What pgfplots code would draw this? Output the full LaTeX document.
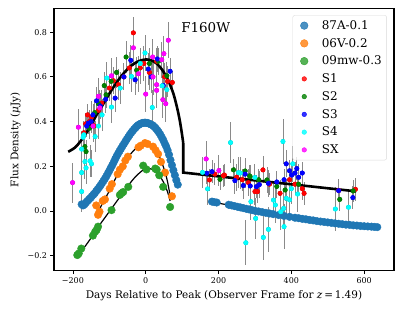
\documentclass[border=0pt]{standalone}
\usepackage{pgfplots}
\pgfplotsset{compat=1.18}
\usepackage{pgfplotstable}
\usepackage{fontspec}
\setmainfont{DejaVu Serif}
\definecolor{tabblue}{HTML}{1F77B4}
\definecolor{taborange}{HTML}{FF7F0E}
\definecolor{tabgreen}{HTML}{2CA02C}
\definecolor{sone}{HTML}{FF0000}
\definecolor{stwo}{HTML}{008000}
\definecolor{sthree}{HTML}{0000FF}
\definecolor{sfour}{HTML}{00FFFF}
\definecolor{sx}{HTML}{FF00FF}
\definecolor{ebar}{HTML}{8A8A8A}

\pgfplotstableread{
x y
-176 0.030
-172 0.025
-168 0.030
-164 0.038
-160 0.045
-156 0.052
-152 0.058
-148 0.066
-144 0.073
-140 0.080
-136 0.089
-132 0.097
-128 0.106
-124 0.115
-120 0.125
-116 0.135
-112 0.145
-108 0.156
-104 0.168
-100 0.180
-96 0.193
-92 0.205
-88 0.218
-84 0.232
-80 0.245
-76 0.257
-72 0.268
-68 0.279
-64 0.290
-60 0.300
-56 0.311
-52 0.321
-48 0.331
-44 0.341
-40 0.350
-36 0.358
-32 0.366
-28 0.373
-24 0.380
-20 0.385
-16 0.389
-12 0.392
-8 0.394
-4 0.395
0 0.395
4 0.394
8 0.392
12 0.389
16 0.386
20 0.382
24 0.376
28 0.369
32 0.361
36 0.352
40 0.342
44 0.330
48 0.318
52 0.303
56 0.289
60 0.272
64 0.252
68 0.228
72 0.205
76 0.182
80 0.160
84 0.138
88 0.118
182 0.042
188 0.040
195 0.038
228 0.028
236 0.025
244 0.022
252 0.019
260 0.016
268 0.013
276 0.010
284 0.007
292 0.004
300 0.001
310 -0.002
320 -0.005
330 -0.008
340 -0.011
350 -0.014
365 -0.018
380 -0.022
395 -0.026
410 -0.030
420 -0.032
430 -0.035
440 -0.037
450 -0.040
460 -0.042
470 -0.045
480 -0.047
490 -0.049
500 -0.051
510 -0.053
520 -0.055
530 -0.057
540 -0.059
550 -0.061
560 -0.062
570 -0.064
580 -0.065
590 -0.067
600 -0.068
610 -0.069
620 -0.070
628 -0.071
636 -0.072
}\tabA

\pgfplotstableread{
x y
-136 0.025
-131 -0.017
-127 -0.003
-118 0.045
-112 0.052
-99 0.100
-93 0.120
-77 0.165
-71 0.185
-63 0.200
-56 0.226
-49 0.243
-20 0.285
-14 0.292
-2 0.304
5 0.300
20 0.288
27 0.272
34 0.255
42 0.220
53 0.172
72 0.066
}\tabB

\pgfplotstableread{
x y
-188 -0.197
-184 -0.190
-177 -0.168
-145 -0.110
-139 -0.093
-135 -0.085
-131 -0.070
-94 0.004
-71 0.072
-66 0.080
-62 0.085
-48 0.108
-7 0.203
2 0.186
26 0.190
30 0.185
37 0.160
48 0.108
67 0.018
}\tabC

\pgfplotstableread{
x y e
-34 0.797 0.07
73 0.575 0.05
-60 0.600 0.06
-75 0.565 0.07
-89 0.583 0.06
-121 0.483 0.06
-149 0.420 0.07
-142 0.381 0.06
-165 0.390 0.05
-160 0.430 0.05
-15 0.640 0.07
10 0.620 0.08
30 0.670 0.06
52 0.600 0.06
-100 0.550 0.06
-45 0.640 0.07
-130 0.450 0.06
-155 0.400 0.05
-170 0.350 0.05
60 0.580 0.07
-5 0.660 0.08
175 0.139 0.05
190 0.165 0.05
216 0.161 0.05
213 0.157 0.05
250 0.151 0.06
282 0.127 0.06
307 0.087 0.05
322 0.184 0.06
300 0.087 0.06
369 0.079 0.06
395 0.140 0.05
410 0.120 0.05
435 0.079 0.05
430 0.100 0.05
530 0.092 0.05
576 0.097 0.05
340 0.120 0.05
265 0.140 0.05
}\tabSa

\pgfplotstableread{
x y e
-54 0.689 0.07
-114 0.561 0.06
-109 0.520 0.06
-130 0.480 0.05
-167 0.288 0.05
-164 0.266 0.05
58 0.605 0.06
35 0.670 0.06
-80 0.620 0.07
-140 0.440 0.05
-155 0.370 0.05
10 0.660 0.07
-25 0.630 0.06
-95 0.580 0.07
204 0.142 0.05
241 0.184 0.05
273 0.179 0.06
285 0.157 0.05
287 0.154 0.05
333 0.139 0.06
383 0.094 0.05
360 0.110 0.05
420 0.120 0.05
533 0.052 0.05
570 0.090 0.05
310 0.140 0.05
}\tabSb

\pgfplotstableread{
x y e
-41 0.674 0.07
67 0.625 0.06
7 0.635 0.07
-29 0.587 0.07
48 0.562 0.06
32 0.680 0.06
-84 0.505 0.06
-135 0.493 0.06
-158 0.393 0.05
-162 0.380 0.05
-150 0.400 0.05
-125 0.470 0.06
-145 0.430 0.05
-110 0.500 0.06
15 0.600 0.07
-60 0.600 0.06
168 0.169 0.05
182 0.176 0.05
245 0.136 0.06
268 0.114 0.06
273 0.165 0.06
287 0.112 0.06
304 0.109 0.05
312 0.118 0.06
337 0.124 0.06
386 0.211 0.06
401 0.161 0.06
410 0.170 0.05
420 0.151 0.06
395 0.180 0.05
415 0.190 0.05
430 0.170 0.05
380 0.140 0.05
530 0.091 0.05
569 0.060 0.05
360 0.130 0.05
}\tabSc

\pgfplotstableread{
x y e
-2 0.707 0.08
18 0.463 0.08
58 0.543 0.07
-39 0.602 0.07
-107 0.595 0.07
-94 0.465 0.07
-139 0.333 0.07
-170 0.341 0.06
-172 0.330 0.06
-176 0.277 0.08
-167 0.221 0.08
-176 0.172 0.08
-176 0.087 0.09
-149 0.211 0.06
-153 0.224 0.07
-164 0.193 0.07
-130 0.380 0.06
-120 0.430 0.07
45 0.560 0.07
-70 0.550 0.07
-15 0.660 0.07
156 0.173 0.07
170 0.099 0.07
233 0.306 0.09
255 0.172 0.07
260 0.170 0.07
289 0.042 0.08
302 -0.033 0.09
275 -0.142 0.10
323 -0.118 0.10
337 -0.082 0.10
377 0.311 0.10
404 0.211 0.08
351 0.049 0.08
356 0.027 0.08
379 0.012 0.08
380 -0.070 0.10
371 -0.003 0.08
386 0.057 0.08
417 0.076 0.08
395 0.050 0.08
521 0.009 0.10
557 0.017 0.08
300 0.150 0.06
400 0.100 0.07
}\tabSd

\pgfplotstableread{
x y e
-185 0.375 0.08
-201 0.127 0.09
-34 0.730 0.08
62 0.764 0.08
19 0.689 0.08
0 0.523 0.08
47 0.498 0.08
30 0.565 0.08
-20 0.614 0.08
-94 0.605 0.08
-126 0.461 0.08
-130 0.513 0.08
50 0.704 0.08
44 0.677 0.08
30 0.540 0.08
-145 0.380 0.07
55 0.480 0.08
20 0.600 0.08
166 0.233 0.08
201 0.181 0.07
}\tabSe

\begin{document}
\begin{tikzpicture}
\begin{axis}[name=ax, scale only axis, width=340bp, height=262bp,
  xmin=-252, xmax=682, ymin=-0.267, ymax=0.905,
  axis line style={line width=1.5bp},
  tick pos=left, tick align=outside, major tick length=3.5bp,
  tick style={black, line width=0.8bp},
  xtick={-200,0,200,400,600}, xticklabels={−200,0,200,400,600},
  ytick={-0.2,0,0.2,0.4,0.6,0.8}, yticklabels={−0.2,0.0,0.2,0.4,0.6,0.8},
  ticklabel style={font=\fontsize{8}{9}\selectfont},
  label style={font=\fontsize{10.5}{12}\selectfont},
  xlabel={Days Relative to Peak (Observer Frame for \textit{z}\,=\,1.49)},
  ylabel={Flux Density (\textit{μ}Jy)},
  legend style={at={(0.979,0.975)}, anchor=north east, draw=black!15,
    rounded corners=2bp, fill=white, fill opacity=0.8, text opacity=1,
    font=\fontsize{12}{14}\selectfont, row sep=3.4bp, inner xsep=3bp, inner ysep=3bp},
  legend cell align=left,
  legend image code/.code={\path[draw=none,fill=none] (0cm,-0.1cm) rectangle (0.85cm,0.1cm); \draw[#1] plot coordinates {(0.3cm,0cm)};},
  error bars/error bar style={ebar, line width=0.9bp},
]
\addplot[forget plot, only marks, mark=none, error bars/.cd, y dir=both, y explicit, error mark=none] table[x=x,y=y,y error=e]{\tabSa};
\addplot[forget plot, only marks, mark=none, error bars/.cd, y dir=both, y explicit, error mark=none] table[x=x,y=y,y error=e]{\tabSb};
\addplot[forget plot, only marks, mark=none, error bars/.cd, y dir=both, y explicit, error mark=none] table[x=x,y=y,y error=e]{\tabSc};
\addplot[forget plot, only marks, mark=none, error bars/.cd, y dir=both, y explicit, error mark=none] table[x=x,y=y,y error=e]{\tabSd};
\addplot[forget plot, only marks, mark=none, error bars/.cd, y dir=both, y explicit, error mark=none] table[x=x,y=y,y error=e]{\tabSe};

\addplot[only marks, mark=*, mark size=3.8bp, draw=tabblue, fill=tabblue] table[x=x,y=y]{\tabA};
\addlegendentry{87A-0.1}
\addplot[only marks, mark=*, mark size=3.8bp, draw=taborange, fill=taborange] table[x=x,y=y]{\tabB};
\addlegendentry{06V-0.2}
\addplot[only marks, mark=*, mark size=3.8bp, draw=tabgreen, fill=tabgreen] table[x=x,y=y]{\tabC};
\addlegendentry{09mw-0.3}
\addplot[only marks, mark=*, mark size=2.3bp, draw=sone, fill=sone] table[x=x,y=y]{\tabSa};
\addlegendentry{S1}
\addplot[only marks, mark=*, mark size=2.3bp, draw=stwo, fill=stwo] table[x=x,y=y]{\tabSb};
\addlegendentry{S2}
\addplot[only marks, mark=*, mark size=2.3bp, draw=sthree, fill=sthree] table[x=x,y=y]{\tabSc};
\addlegendentry{S3}
\addplot[only marks, mark=*, mark size=2.3bp, draw=sfour, fill=sfour] table[x=x,y=y]{\tabSd};
\addlegendentry{S4}
\addplot[only marks, mark=*, mark size=2.3bp, draw=sx, fill=sx] table[x=x,y=y]{\tabSe};
\addlegendentry{SX}

\addplot[forget plot, black, line width=1.2bp, smooth] coordinates {(-172,0.025) (-160,0.045) (-140,0.080) (-120,0.125) (-100,0.180) (-80,0.245) (-60,0.300) (-40,0.350) (-20,0.385) (0,0.395) (20,0.383) (35,0.355) (50,0.315) (60,0.275) (70,0.215) (80,0.160) (86,0.120)};
\addplot[forget plot, black, line width=1.2bp, smooth] coordinates {(182,0.040) (250,0.020) (300,0.002) (400,-0.027) (500,-0.051) (636,-0.071)};
\addplot[forget plot, black, line width=1.2bp, smooth] coordinates {(-130,0.000) (-115,0.045) (-100,0.090) (-80,0.155) (-60,0.210) (-40,0.258) (-20,0.290) (-5,0.300) (10,0.296) (25,0.275) (40,0.235) (52,0.180) (60,0.130) (68,0.060)};
\addplot[forget plot, black, line width=1.2bp, smooth] coordinates {(-186,-0.190) (-170,-0.165) (-150,-0.120) (-130,-0.070) (-110,-0.025) (-90,0.020) (-70,0.065) (-50,0.110) (-30,0.150) (-10,0.180) (5,0.190) (20,0.185) (35,0.165) (50,0.125) (60,0.085) (67,0.045)};
\addplot[forget plot, black, line width=2.6bp, smooth] coordinates {(-213,0.265) (-195,0.283) (-180,0.310) (-165,0.345) (-150,0.385) (-135,0.430) (-120,0.470) (-100,0.525) (-80,0.575) (-60,0.617) (-40,0.650) (-20,0.670) (0,0.678) (15,0.674) (30,0.660) (45,0.632) (60,0.590) (75,0.530) (85,0.470) (93,0.410) (99,0.350) (103,0.305)};
\addplot[forget plot, black, line width=2.6bp, sharp plot] coordinates {(103,0.305) (103,0.172) (578,0.088)};

\node[anchor=west, font=\fontsize{13.5}{15}\selectfont] at (axis cs:88,0.82) {F160W};
\end{axis}
\path (ax.south west) ++(-54bp,-42.3bp) rectangle ++(407bp,313bp);
\end{tikzpicture}
\end{document}
